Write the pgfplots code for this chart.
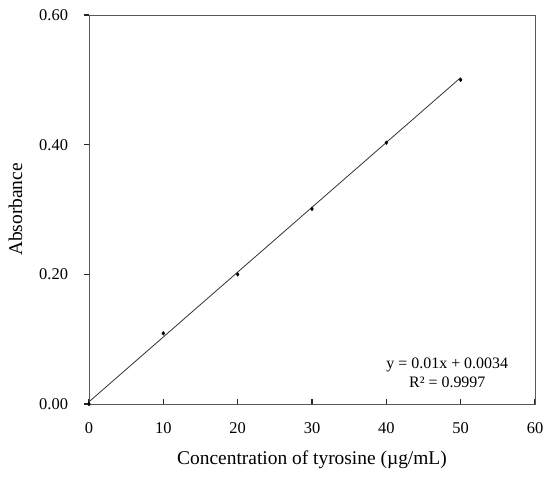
\documentclass[border=0pt]{standalone}
\usepackage{pgfplots}
\pgfplotsset{compat=1.18}
\usepackage{fontspec}
\setmainfont{Liberation Serif}
\begin{document}
\begin{tikzpicture}
\begin{axis}[
  scale only axis,
  width=446bp, height=389bp,
  xmin=0, xmax=60, ymin=0, ymax=0.6,
  xtick={0,10,...,60},
  ytick={0,0.2,0.4,0.6},
  axis line style={black!65, line width=0.8bp},
  xtick pos=bottom, ytick pos=left,
  xtick align=inside, ytick align=outside,
  major tick length=5.5bp,
  major tick style={draw=black!85, line width=1.3bp},
  /pgf/number format/assume math mode=true,
  yticklabel style={/pgf/number format/fixed, /pgf/number format/fixed zerofill, /pgf/number format/precision=2, xshift=-12bp},
  ticklabel style={font=\fontsize{16.5}{19}\selectfont},
  xticklabel style={yshift=-15bp},
  xlabel={Concentration of tyrosine (µg/mL)},
  ylabel={Absorbance},
  label style={font=\fontsize{19.5}{23}\selectfont},
  xlabel style={yshift=-10bp},
  ylabel style={yshift=10bp},
  clip=false,
]
\addplot[black!80, line width=0.8bp, no marks] coordinates {(0,0.0034) (50,0.5034)};
\addplot[only marks, mark=diamond*, mark size=1.9bp, black] coordinates {
  (0,0) (10,0.109) (20,0.200) (30,0.301) (40,0.403) (50,0.500)
};
\node[font=\fontsize{16}{19}\selectfont, align=center] at (axis cs:48.2,0.060) {y = 0.01x + 0.0034};
\node[font=\fontsize{16}{19}\selectfont, align=center] at (axis cs:48.2,0.0335) {R² = 0.9997};
\end{axis}
\pgfresetboundingbox
\path[use as bounding box] ([xshift=-89bp,yshift=-79bp]current axis.south west) rectangle ([xshift=15bp,yshift=15bp]current axis.north east);
\end{tikzpicture}
\end{document}
